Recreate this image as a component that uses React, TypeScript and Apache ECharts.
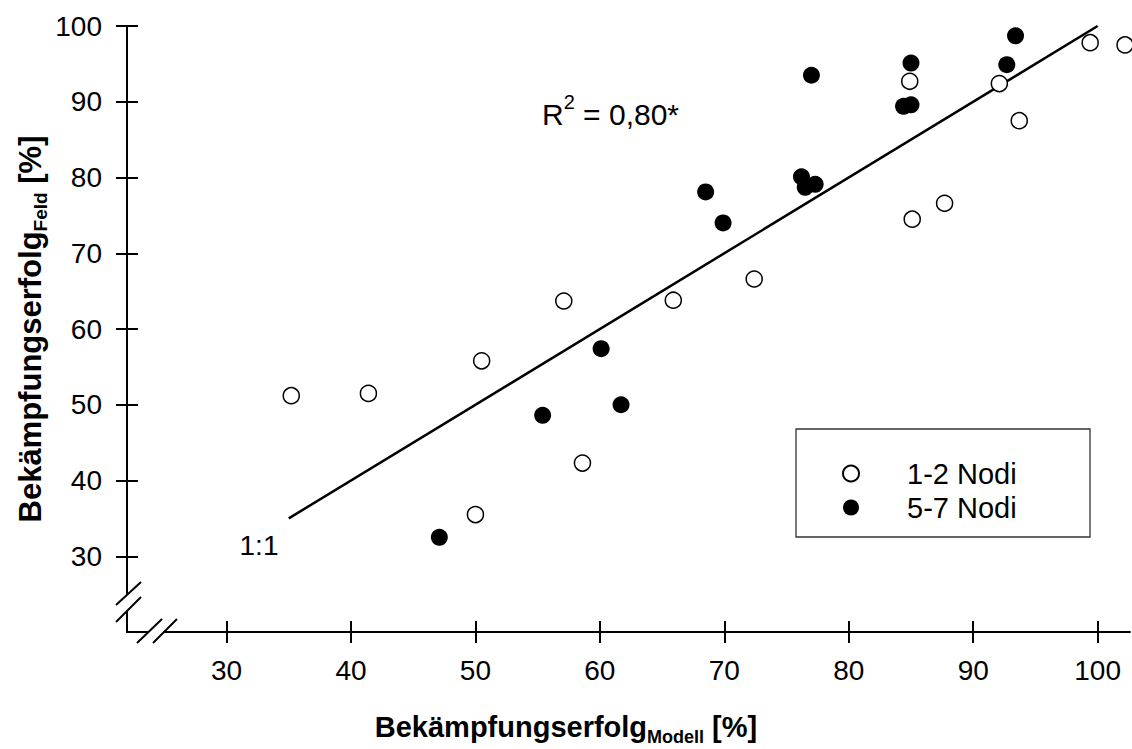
import React, { useEffect, useRef } from "react";
import * as echarts from "echarts";

// ---- data ----
const seriesNames = ["1-2 Nodi", "5-7 Nodi"];
const openX = [35.2, 41.4, 50.5, 57.1, 65.9, 58.6, 50.0, 72.4, 84.9, 85.1, 87.7, 92.1, 93.7, 99.4, 102.2];
const openY = [51.2, 51.5, 55.8, 63.7, 63.8, 42.3, 35.5, 66.6, 92.7, 74.5, 76.6, 92.4, 87.5, 97.8, 97.5];
const filledX = [47.1, 55.4, 60.1, 61.7, 68.5, 69.9, 77.0, 76.2, 76.5, 77.3, 84.4, 85.0, 85.0, 92.7, 93.4];
const filledY = [32.5, 48.6, 57.4, 50.0, 78.1, 74.0, 93.5, 80.1, 78.7, 79.1, 89.4, 89.6, 95.1, 94.9, 98.7];
const lineX = [35, 100];
const lineY = [35, 100];
const tickValues = [30, 40, 50, 60, 70, 80, 90, 100];
const xRange = [22, 102.6];
const yRange = [20, 100];
const lineLabel = "1:1";
const r2Label = ["R", "2", " = 0,80*"];
const xTitle = ["Bekämpfungserfolg", "Modell", " [%]"];
const yTitle = ["Bekämpfungserfolg", "Feld", " [%]"];

const FONT = "'Liberation Sans', Arial, sans-serif";

export default function App() {
  const ref = useRef<HTMLDivElement>(null);

  useEffect(() => {
    if (!ref.current) return;
    const chart = echarts.init(ref.current, null, { renderer: "svg" });

    const zip = (xs: number[], ys: number[]) => xs.map((x, i) => [x, ys[i]]);

    const axisCommon = {
      type: "value",
      splitLine: { show: false },
      axisLine: { show: true, lineStyle: { color: "#000", width: 2 } },
    };

    const makeTitleRich = (main: number, sub: number, lh: number) => ({
      b: { fontSize: main, fontWeight: "bold", fontFamily: FONT, fill: "#000", lineHeight: lh },
      s: { fontSize: sub, fontWeight: "bold", fontFamily: FONT, fill: "#000", lineHeight: sub, verticalAlign: "bottom" },
    });

    const option: any = {
      animation: false,
      backgroundColor: "#fff",
      grid: { left: 127, right: 2, top: 26, bottom: 117, containLabel: false },
      xAxis: [
        {
          ...axisCommon,
          min: xRange[0],
          max: xRange[1],
          position: "bottom",
          axisTick: { show: true, inside: false, length: 11, lineStyle: { color: "#000", width: 2 }, customValues: tickValues },
          axisLabel: { show: true, margin: 24, fontSize: 28, color: "#000", fontFamily: FONT, customValues: tickValues },
        },
        {
          ...axisCommon,
          min: xRange[0],
          max: xRange[1],
          position: "bottom",
          axisLine: { show: false },
          axisTick: { show: true, inside: true, length: 11, lineStyle: { color: "#000", width: 2 }, customValues: tickValues },
          axisLabel: { show: false },
        },
      ],
      yAxis: [
        {
          ...axisCommon,
          min: yRange[0],
          max: yRange[1],
          position: "left",
          axisTick: { show: true, inside: false, length: 11, lineStyle: { color: "#000", width: 2 }, customValues: tickValues },
          axisLabel: { show: true, margin: 25, fontSize: 28, color: "#000", fontFamily: FONT, customValues: tickValues },
        },
        {
          ...axisCommon,
          min: yRange[0],
          max: yRange[1],
          position: "left",
          axisLine: { show: false },
          axisTick: { show: true, inside: true, length: 11, lineStyle: { color: "#000", width: 2 }, customValues: tickValues },
          axisLabel: { show: false },
        },
      ],
      legend: {
        data: seriesNames,
        orient: "vertical",
        left: 842,
        top: 459,
        padding: 0,
        itemWidth: 16,
        itemHeight: 16,
        itemGap: 5,
        selectedMode: false,
        textStyle: { fontSize: 29, color: "#000", fontFamily: FONT, padding: [0, 0, 0, 43] },
      },
      series: [
        {
          name: "1:1",
          type: "line",
          data: zip(lineX, lineY),
          showSymbol: false,
          symbol: "none",
          lineStyle: { color: "#000", width: 2.5 },
          z: 1,
          silent: true,
        },
        {
          name: seriesNames[0],
          type: "scatter",
          data: zip(openX, openY),
          symbol: "circle",
          symbolSize: 16,
          itemStyle: { color: "#fff", borderColor: "#000", borderWidth: 1.5, opacity: 1 },
          z: 3,
        },
        {
          name: seriesNames[1],
          type: "scatter",
          data: zip(filledX, filledY),
          symbol: "circle",
          symbolSize: 17,
          itemStyle: { color: "#000", borderColor: "#000", borderWidth: 0, opacity: 1 },
          z: 4,
        },
      ],
      graphic: [
        // axis break gaps
        { type: "rect", z: 100, shape: { x: 122, y: 595, width: 10, height: 15 }, style: { fill: "#fff" } },
        { type: "rect", z: 100, shape: { x: 149, y: 627, width: 14, height: 10 }, style: { fill: "#fff" } },
        { type: "line", z: 101, shape: { x1: 116, y1: 605, x2: 141, y2: 582 }, style: { stroke: "#000", lineWidth: 2 } },
        { type: "line", z: 101, shape: { x1: 116, y1: 622, x2: 141, y2: 597 }, style: { stroke: "#000", lineWidth: 2 } },
        { type: "line", z: 101, shape: { x1: 137, y1: 643, x2: 162, y2: 619 }, style: { stroke: "#000", lineWidth: 2 } },
        { type: "line", z: 101, shape: { x1: 153, y1: 643, x2: 177, y2: 619 }, style: { stroke: "#000", lineWidth: 2 } },
        // legend frame
        { type: "rect", z: 50, shape: { x: 796, y: 429, width: 294, height: 108 }, style: { fill: "none", stroke: "#333", lineWidth: 1.3 } },
        // 1:1 label
        {
          type: "text", z: 100, x: 259, y: 545,
          style: { text: lineLabel, fontSize: 28, fontFamily: FONT, fill: "#000", align: "center", verticalAlign: "middle" },
        },
        // R^2 label
        {
          type: "text", z: 100, x: 542, y: 114,
          style: {
            text: `{a|${r2Label[0]}}{sup|${r2Label[1]}}{a|${r2Label[2]}}`,
            align: "left",
            verticalAlign: "middle",
            rich: {
              a: { fontSize: 30, fontFamily: FONT, fill: "#000", lineHeight: 44 },
              sup: { fontSize: 20, fontFamily: FONT, fill: "#000", lineHeight: 20, verticalAlign: "top" },
            },
          },
        },
        // x title
        {
          type: "text", z: 100, x: 566, y: 727,
          style: {
            text: `{b|${xTitle[0]}}{s|${xTitle[1]}}{b|${xTitle[2]}}`,
            align: "center",
            verticalAlign: "middle",
            rich: makeTitleRich(29, 18, 37),
          },
        },
        // y title
        {
          type: "text", z: 100, x: 30, y: 329, rotation: Math.PI / 2,
          style: {
            text: `{b|${yTitle[0]}}{s|${yTitle[1]}}{b|${yTitle[2]}}`,
            align: "center",
            verticalAlign: "middle",
            rich: makeTitleRich(31, 19, 39),
          },
        },
      ],
    };

    chart.setOption(option);
    return () => {
      chart.dispose();
    };
  }, []);

  return (
    <div
      ref={ref}
      style={{ position: "fixed", left: 0, top: 0, width: 1132, height: 749, background: "#fff" }}
    />
  );
}
